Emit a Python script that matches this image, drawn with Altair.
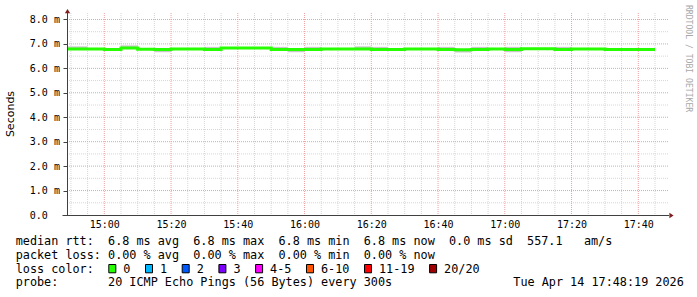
import altair as alt
import pandas as pd

# ---------------- values ----------------
seg_start = ["14:45", "14:50", "14:55", "15:00", "15:05", "15:10", "15:15", "15:20", "15:25",
             "15:30", "15:35", "15:40", "15:45", "15:50", "15:55", "16:00", "16:05", "16:10",
             "16:15", "16:20", "16:25", "16:30", "16:35", "16:40", "16:45", "16:50", "16:55",
             "17:00", "17:05", "17:10", "17:15", "17:20", "17:25", "17:30", "17:35", "17:40"]
median_ms = [6.79, 6.79, 6.79, 6.77, 6.83, 6.78, 6.77, 6.79, 6.79,
             6.77, 6.83, 6.83, 6.83, 6.77, 6.77, 6.77, 6.79, 6.79,
             6.79, 6.77, 6.77, 6.79, 6.79, 6.77, 6.76, 6.77, 6.79,
             6.77, 6.80, 6.80, 6.77, 6.79, 6.79, 6.77, 6.77, 6.77]
smoke_lo = [6.77, 6.77, 6.77, 6.75, 6.81, 6.76, 6.66, 6.77, 6.77,
            6.75, 6.81, 6.81, 6.81, 6.75, 6.66, 6.75, 6.77, 6.77,
            6.77, 6.75, 6.75, 6.77, 6.77, 6.75, 6.65, 6.75, 6.77,
            6.66, 6.78, 6.78, 6.75, 6.77, 6.77, 6.75, 6.75, 6.75]
smoke_hi = [6.90, 6.90, 6.81, 6.79, 6.94, 6.80, 6.79, 6.81, 6.81,
            6.88, 6.85, 6.85, 6.85, 6.88, 6.79, 6.88, 6.81, 6.81,
            6.90, 6.88, 6.79, 6.81, 6.81, 6.88, 6.78, 6.88, 6.81,
            6.88, 6.82, 6.82, 6.88, 6.81, 6.81, 6.79, 6.79, 6.79]
data_end = "17:45"
step_min = 5

x_tick_labels = ["15:00", "15:20", "15:40", "16:00", "16:20", "16:40", "17:00", "17:20", "17:40"]
y_tick_values = [0, 1, 2, 3, 4, 5, 6, 7, 8]

rtt_stats = ["6.8 ms avg", "6.8 ms max", "6.8 ms min", "6.8 ms now", "0.0 ms sd", "557.1   am/s"]
loss_stats = ["0.00 % avg", "0.00 % max", "0.00 % min", "0.00 % now"]
loss_labels = ["0", "1", "2", "3", "4-5", "6-10", "11-19", "20/20"]
loss_colors = ["#26ff00", "#00b8ff", "#0059ff", "#7e00ff", "#ff00ff", "#ff5500", "#ff0000", "#a10000"]
probe_text = "20 ICMP Echo Pings (56 Bytes) every 300s"
date_text = "Tue Apr 14 17:48:19 2026"
y_title = "Seconds"
side_text = "RRDTOOL / TOBI OETIKER"


# ---------------- helpers ----------------
def to_min(s):
    h, m = s.split(":")
    return int(h) * 60 + int(m)


def nb(s):
    return s.replace(" ", "\u00a0")


MONO = "DejaVu Sans Mono"
W, H = 601, 202
PX_PER_MIN = 3.3375
PX_PER_MS = 24.44
X0 = to_min("15:00") - 37.3 / PX_PER_MIN
X1 = X0 + W / PX_PER_MIN
Y1 = H / PX_PER_MS

xs = alt.Scale(domain=[X0, X1], nice=False, zero=False)
ys = alt.Scale(domain=[0, Y1], nice=False, zero=False)

seg = pd.DataFrame({
    "t": [to_min(s) for s in seg_start],
    "v": median_ms,
    "lo": smoke_lo,
    "hi": smoke_hi,
})
seg["t2"] = seg["t"] + step_min
line_df = pd.concat([seg[["t", "v"]],
                     pd.DataFrame({"t": [to_min(data_end)], "v": [median_ms[-1]]})],
                    ignore_index=True)

major_x = [to_min(s) for s in x_tick_labels]
minor_x = [m for m in range(to_min("14:50"), int(X1) + 1, 5) if m not in major_x]
major_y = [v for v in y_tick_values if v > 0]
minor_y = [v + 0.5 for v in y_tick_values[:-1]]

one = pd.DataFrame({"a": [0]})

x_axis = alt.Axis(
    values=major_x, grid=False, domain=False, ticks=False, tickSize=0,
    labelExpr="floor(datum.value/60) + ':' + (datum.value % 60 < 10 ? '0' : '') + (datum.value % 60)",
    labelFont=MONO, labelFontSize=10, labelColor="#000000", labelPadding=12.5,
    labelBaseline="alphabetic", labelFlush=False, labelOverlap=False, labelBound=False, title=None,
)
y_axis = alt.Axis(
    values=y_tick_values, grid=False, domain=False, ticks=True, tickSize=4, tickColor="#404040",
    labelExpr="datum.value == 0 ? '0.0' : format(datum.value, '.1f') + ' m'",
    labelFont=MONO, labelFontSize=10, labelColor="#000000", labelAlign="left",
    labelBaseline="middle", labelPadding=33.7, labelFlush=False, labelOverlap=False,
    labelBound=False, title=None,
)

# ---------------- grid ----------------
grid_minor_x = alt.Chart(pd.DataFrame({"t": minor_x})).mark_rule(
    color="#d6d6d6", strokeDash=[1, 1], strokeWidth=1
).encode(x=alt.X("t:Q", scale=xs, axis=x_axis))
grid_major_x = alt.Chart(pd.DataFrame({"t": major_x})).mark_rule(
    color="#eda0a0", strokeDash=[1, 1], strokeWidth=1
).encode(x=alt.X("t:Q", scale=xs, axis=x_axis))
grid_minor_y = alt.Chart(pd.DataFrame({"v": minor_y})).mark_rule(
    color="#d6d6d6", strokeDash=[1, 1], strokeWidth=1
).encode(y=alt.Y("v:Q", scale=ys, axis=y_axis))
grid_major_y = alt.Chart(pd.DataFrame({"v": major_y})).mark_rule(
    color="#eda0a0", strokeDash=[1, 1], strokeWidth=1
).encode(y=alt.Y("v:Q", scale=ys, axis=y_axis))

# ---------------- smoke + median line ----------------
smoke = alt.Chart(seg).mark_rect(color="#c8c8c8", clip=True).encode(
    x=alt.X("t:Q", scale=xs, axis=x_axis), x2="t2:Q",
    y=alt.Y("lo:Q", scale=ys, axis=y_axis), y2="hi:Q",
)

median_line = alt.Chart(line_df).mark_line(
    color="#26ff00", strokeWidth=3, interpolate="step-after", clip=True, strokeCap="butt"
).encode(
    x=alt.X("t:Q", scale=xs, axis=x_axis),
    y=alt.Y("v:Q", scale=ys, axis=y_axis),
)

# ---------------- axis lines + arrows ----------------
AX = "#404040"
y_axis_line = alt.Chart(one).mark_rule(color=AX, strokeWidth=1).encode(
    x=alt.value(0.5), y=alt.value(-1), y2=alt.value(202.5))
x_axis_line = alt.Chart(one).mark_rule(color=AX, strokeWidth=1).encode(
    x=alt.value(-4.5), x2=alt.value(602), y=alt.value(202.5))
arrow_up = alt.Chart(one).mark_point(
    shape="M-1,0.8L1,0.8L0,-0.8Z", filled=True, size=28, color="#7f1f1f", opacity=1, strokeWidth=0
).encode(x=alt.value(0.5), y=alt.value(-1.8))
arrow_right = alt.Chart(one).mark_point(
    shape="M-0.8,-1L-0.8,1L0.8,0Z", filled=True, size=28, color="#7f1f1f", opacity=1, strokeWidth=0
).encode(x=alt.value(604.5), y=alt.value(202.5))

# ---------------- titles ----------------
title_y = alt.Chart(one).mark_text(
    angle=270, font="DejaVu Sans", fontSize=11, color="#000000", align="center", baseline="middle"
).encode(x=alt.value(-56), y=alt.value(101), text=alt.value(y_title))
side = alt.Chart(one).mark_text(
    angle=90, font=MONO, fontSize=8.1, color="#a8a8a8", align="left", baseline="middle"
).encode(x=alt.value(620.5), y=alt.value(-8), text=alt.value(side_text))

# ---------------- legend text ----------------
FS = 11.8
LX = -51.3
line1 = "median rtt:  " + "  ".join(rtt_stats)
line2 = "packet loss: " + "  ".join(loss_stats)
line3 = "loss color:"
line4 = "probe:       " + probe_text


def text_line(s, y, x=LX):
    return alt.Chart(one).mark_text(
        font=MONO, fontSize=FS, color="#000000", align="left", baseline="alphabetic"
    ).encode(x=alt.value(x), y=alt.value(y), text=alt.value(nb(s)))


t1 = text_line(line1, 232.3)
t2 = text_line(line2, 245.6)
t3 = text_line(line3, 259.7)
t4 = text_line(line4, 273.0)
t5 = text_line(date_text, 273.0, x=513.3 - 67)

# loss colour swatches
tx = []
cur = 123.3 - 67
for lab in loss_labels:
    tx.append(cur)
    cur += 29.6 + 7.1 * len(lab)
leg = pd.DataFrame({
    "label": loss_labels,
    "color": loss_colors,
    "tx": tx,
})
leg["bx"] = leg["tx"] - 14.5
leg["bx2"] = leg["tx"] - 7.5

swatch = alt.Chart(leg).mark_rect(stroke="#000000", strokeWidth=1).encode(
    x=alt.X("bx:Q", scale=None, axis=None), x2="bx2:Q",
    y=alt.value(251.5), y2=alt.value(259.8),
    fill=alt.Color("color:N", scale=None, legend=None),
)
swatch_text = alt.Chart(leg).mark_text(
    font=MONO, fontSize=FS, color="#000000", align="left", baseline="alphabetic"
).encode(
    x=alt.X("tx:Q", scale=None, axis=None), y=alt.value(259.7), text="label:N"
)

chart = alt.layer(
    grid_minor_x, grid_minor_y, grid_major_x, grid_major_y,
    smoke, median_line,
    y_axis_line, x_axis_line, arrow_up, arrow_right,
    title_y, side, t1, t2, t3, t4, t5, swatch, swatch_text,
).properties(
    width=W, height=H,
    padding={"left": 67, "top": 13, "right": 29, "bottom": 82},
    autosize=alt.AutoSizeParams(type="none"),
    background="#ffffff",
).configure_view(stroke=None)

chart.save("out.html", embed_options={"renderer": "svg", "actions": False})
